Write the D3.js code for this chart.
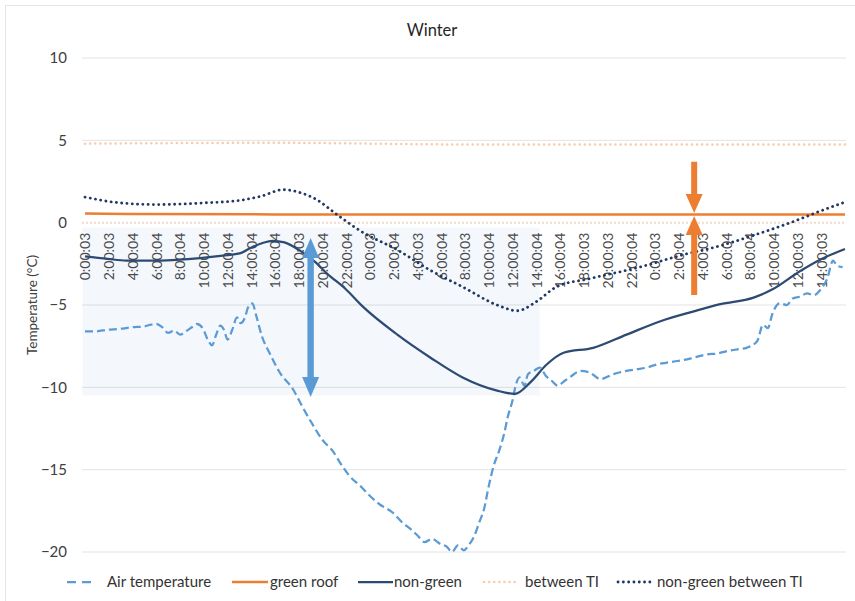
<!DOCTYPE html>
<html>
<head>
<meta charset="utf-8">
<script src="https://cdn.jsdelivr.net/npm/d3@7/dist/d3.min.js"></script>
<style>
  html, body { margin: 0; padding: 0; background: #fff; }
  svg { display: block; font-family: Lato, "Open Sans", sans-serif; }
</style>
</head>
<body>
<svg id="chart" width="855" height="601"></svg>
<script>
// Category labels, one every two hours along the time axis
const tickLabels = [
  "0:00:03","2:00:03","4:00:04","6:00:04","8:00:04","10:00:04","12:00:04","14:00:04",
  "16:00:04","18:00:03","20:00:04","22:00:04","0:00:03","2:00:04","4:00:03","6:00:04",
  "8:00:03","10:00:04","12:00:04","14:00:04","16:00:04","18:00:03","20:00:03","22:00:04",
  "0:00:03","2:00:04","4:00:03","6:00:04","8:00:04","10:00:04","12:00:03","14:00:03"
];
const yTicks = [10, 5, 0, -5, -10, -15, -20];

// Each series: [elapsed hours, temperature °C]
const airTemperature = [
  [0,-6.6],[0.9,-6.6],[1.9,-6.5],[2.9,-6.45],[4,-6.35],[5,-6.3],[5.5,-6.2],[6,-6.15],
  [6.5,-6.35],[7,-6.7],[7.5,-6.55],[8,-6.8],[8.5,-6.6],[9,-6.35],[9.4,-6.15],[9.9,-6.4],
  [10.4,-7.2],[10.7,-7.45],[11,-6.9],[11.4,-6.25],[11.7,-6.5],[12,-7.1],[12.4,-6.5],
  [12.8,-5.75],[13.1,-6.1],[13.5,-5.7],[13.7,-5.2],[14.1,-4.9],[14.4,-5.6],[14.9,-6.9],
  [15.6,-8.0],[16.4,-9.1],[17.5,-10.1],[18.4,-11.3],[19.2,-12.3],[20,-13.2],[20.9,-13.9],
  [21.5,-14.6],[22.3,-15.4],[23.2,-16.0],[24,-16.6],[24.8,-17.1],[25.9,-17.6],[26.7,-18.2],
  [27.4,-18.6],[28,-19.0],[28.6,-19.4],[29.2,-19.2],[29.9,-19.5],[30.5,-19.7],[30.9,-20.0],
  [31.4,-19.6],[31.9,-19.9],[32.3,-19.6],[32.8,-19.0],[33.2,-18.2],[33.6,-17.4],[34,-16.0],
  [34.4,-14.8],[34.9,-13.8],[35.3,-12.8],[35.6,-11.8],[36,-10.8],[36.3,-9.8],[36.6,-9.4],
  [37,-9.9],[37.3,-9.2],[37.8,-9.0],[38.3,-8.8],[38.8,-9.3],[39.3,-9.6],[39.8,-9.9],
  [40.4,-9.6],[41,-9.3],[41.7,-9.0],[42.5,-9.1],[43.4,-9.5],[44.5,-9.2],[45.6,-9.0],
  [46.5,-8.9],[47.3,-8.8],[48.2,-8.6],[49,-8.5],[49.9,-8.4],[50.7,-8.3],[51.5,-8.15],
  [52.4,-8.0],[53.2,-7.95],[54.1,-7.8],[54.9,-7.7],[55.7,-7.6],[56.6,-7.2],[57.1,-6.2],
  [57.5,-6.4],[57.9,-5.5],[58.5,-4.9],[59.1,-5.0],[59.6,-4.6],[60.2,-4.5],[60.8,-4.3],
  [61.4,-4.4],[61.9,-4.1],[62.5,-3.4],[63,-2.3],[63.3,-2.6],[63.8,-2.7]
];
const greenRoof = [[0,0.55],[16,0.5],[32,0.5],[48,0.5],[64,0.5]];
const nonGreen = [
  [0,-2.05],[1.9,-2.2],[3.5,-2.3],[6.3,-2.3],[9.7,-2.15],[11.6,-2.0],[13.1,-1.85],
  [13.9,-1.55],[14.9,-1.25],[15.8,-1.1],[16.8,-1.2],[18.1,-1.7],[19.4,-2.4],[20.4,-3.1],
  [21.9,-4.0],[23.4,-5.1],[26.3,-6.8],[29.1,-8.2],[31.8,-9.4],[34.7,-10.2],[36.2,-10.4],
  [37.5,-9.7],[38.9,-8.6],[40.3,-7.9],[42.8,-7.6],[45.6,-6.8],[48.4,-6.0],[51.2,-5.4],
  [53.5,-4.95],[56.3,-4.55],[57.9,-4.05],[60.2,-2.95],[61.9,-2.25],[64,-1.6]
];
const betweenTI = [[0,4.8],[16,4.85],[32,4.75],[48,4.75],[64,4.75]];
const nonGreenBetweenTI = [
  [0,1.55],[3,1.2],[6,1.1],[10,1.2],[13,1.35],[14.8,1.6],[16.7,2.0],[18,1.85],[19.5,1.4],
  [21.2,0.5],[23.3,-0.55],[26.3,-1.65],[29.1,-2.9],[31.8,-3.9],[34.7,-5.0],[36.4,-5.35],
  [38,-4.8],[39.7,-3.9],[42.5,-3.4],[46.7,-2.7],[50.1,-2.0],[53.5,-1.4],[56.8,-0.65],
  [59.4,0],[61.9,0.7],[64,1.25]
];

// Highlighted period and the two difference arrows (hours, °C)
const shadedPeriod = { from: -0.2, to: 38.3, top: -0.3, bottom: -10.5 };
const blueArrow = { hour: 19.0, top: -0.93, bottom: -10.58 };
const orangeArrows = { hour: 51.3, upperStart: 3.7, upperTip: 0.59, lowerStart: -4.4, lowerTip: 0.4 };

const series = [
  { name: "Air temperature", data: airTemperature, color: "#5B9BD5", width: 2.25, dash: "8,4", cap: "butt" },
  { name: "green roof", data: greenRoof, color: "#ED7D31", width: 2.5, dash: null, cap: "butt" },
  { name: "non-green", data: nonGreen, color: "#2C4A72", width: 2.25, dash: null, cap: "butt" },
  { name: "between TI", data: betweenTI, color: "#F8CBAD", width: 2.5, dash: "0.1,5", cap: "round" },
  { name: "non-green between TI", data: nonGreenBetweenTI, color: "#203864", width: 2.8, dash: "0.1,5.2", cap: "round" }
];

const svg = d3.select("#chart");

// Chart frame
svg.append("rect").attr("x", 5.5).attr("y", 5.5).attr("width", 900).attr("height", 700)
  .attr("fill", "#fff").attr("stroke", "#e4e4e4");

const x = d3.scaleLinear().domain([0, 64]).range([85, 845]);
const y = d3.scaleLinear().domain([-20, 10]).range([552, 58]);
const plotLeft = 82, plotRight = 846;

// Title
svg.append("text").attr("x", 432).attr("y", 36).attr("text-anchor", "middle")
  .attr("font-size", 16.5).attr("fill", "#262626").text("Winter");

// Horizontal gridlines
svg.append("g").selectAll("line").data(yTicks.filter(v => v !== 0)).join("line")
  .attr("x1", plotLeft).attr("x2", plotRight)
  .attr("y1", d => y(d)).attr("y2", d => y(d))
  .attr("stroke", "#e3e3e3").attr("stroke-width", 1);

// Shaded period
svg.append("rect")
  .attr("x", x(shadedPeriod.from)).attr("y", y(shadedPeriod.top))
  .attr("width", x(shadedPeriod.to) - x(shadedPeriod.from))
  .attr("height", y(shadedPeriod.bottom) - y(shadedPeriod.top))
  .attr("fill", "#5B9BD5").attr("fill-opacity", 0.065);

// Y axis labels
const yAxis = svg.append("g").attr("transform", `translate(${plotLeft - 12},0)`)
  .call(d3.axisLeft(y).tickValues(yTicks).tickSize(0).tickFormat(d3.format("d")));
yAxis.select(".domain").remove();
yAxis.selectAll("text").attr("font-size", 15).attr("fill", "#404040")
  .attr("font-family", "Lato, sans-serif");

svg.append("text").attr("transform", `translate(37,${y(-5)}) rotate(-90)`)
  .attr("text-anchor", "middle").attr("font-size", 13.5).attr("fill", "#404040")
  .text("Temperature (°C)");

// Category axis crossing at 0
const xAxis = svg.append("g").attr("transform", `translate(0,${y(0)})`)
  .call(d3.axisBottom(x).tickValues(tickLabels.map((_, i) => i * 2)).tickSize(0)
    .tickFormat((d, i) => tickLabels[i]));
xAxis.select(".domain").attr("d", `M${plotLeft},0H${plotRight}`)
  .attr("stroke", "#f3dccb").attr("stroke-width", 2).attr("stroke-dasharray", "2,2");
xAxis.selectAll("text")
  .attr("transform", "translate(0,10) rotate(-90)")
  .attr("x", 0).attr("y", 0).attr("dy", "0.35em")
  .attr("text-anchor", "end")
  .attr("font-size", 14).attr("fill", "#4a4a4a").attr("font-family", "Lato, sans-serif");

// Series lines
const line = d3.line().x(d => x(d[0])).y(d => y(d[1])).curve(d3.curveMonotoneX);
svg.append("g").selectAll("path").data(series).join("path")
  .attr("d", s => line(s.data))
  .attr("fill", "none")
  .attr("stroke", s => s.color)
  .attr("stroke-width", s => s.width)
  .attr("stroke-dasharray", s => s.dash)
  .attr("stroke-linecap", s => s.cap)
  .attr("stroke-linejoin", "round");

// Arrow helper: shaft from yStart to the tip at yTip
function arrowPath(px, yStart, yTip, shaftHalf, headHalf, headLen) {
  const dir = yTip > yStart ? 1 : -1;
  const yBase = yTip - dir * headLen;
  return `M${px - shaftHalf},${yStart}L${px - shaftHalf},${yBase}L${px - headHalf},${yBase}` +
    `L${px},${yTip}L${px + headHalf},${yBase}L${px + shaftHalf},${yBase}L${px + shaftHalf},${yStart}Z`;
}
function doubleArrowPath(px, yTop, yBottom, shaftHalf, headHalf, headLen) {
  const a = yTop + headLen, b = yBottom - headLen;
  return `M${px},${yTop}L${px + headHalf},${a}L${px + shaftHalf},${a}L${px + shaftHalf},${b}` +
    `L${px + headHalf},${b}L${px},${yBottom}L${px - headHalf},${b}L${px - shaftHalf},${b}` +
    `L${px - shaftHalf},${a}L${px - headHalf},${a}Z`;
}

svg.append("path")
  .attr("d", doubleArrowPath(x(blueArrow.hour), y(blueArrow.top), y(blueArrow.bottom), 3.2, 8.5, 20))
  .attr("fill", "#5B9BD5");
const ox = x(orangeArrows.hour);
svg.append("path")
  .attr("d", arrowPath(ox, y(orangeArrows.upperStart), y(orangeArrows.upperTip), 3, 8.5, 19))
  .attr("fill", "#ED7D31");
svg.append("path")
  .attr("d", arrowPath(ox, y(orangeArrows.lowerStart), y(orangeArrows.lowerTip), 3, 8.5, 19))
  .attr("fill", "#ED7D31");

// Legend
const legendY = 582;
const legendItems = [
  { s: series[0], x0: 67, x1: 97, tx: 107 },
  { s: series[1], x0: 232, x1: 268, tx: 270 },
  { s: series[2], x0: 358, x1: 393, tx: 394 },
  { s: series[3], x0: 484, x1: 519, tx: 525 },
  { s: series[4], x0: 618, x1: 654, tx: 657 }
];
const lg = svg.append("g").selectAll("g").data(legendItems).join("g");
lg.append("line")
  .attr("x1", d => d.x0).attr("x2", d => d.x1)
  .attr("y1", legendY).attr("y2", legendY)
  .attr("stroke", d => d.s.color).attr("stroke-width", d => d.s.width)
  .attr("stroke-dasharray", d => d.s.dash === "8,4" ? "9,6" : d.s.dash)
  .attr("stroke-linecap", d => d.s.cap);
lg.append("text")
  .attr("x", d => d.tx).attr("y", legendY).attr("dy", "0.35em")
  .attr("font-size", 15).attr("fill", "#333")
  .text(d => d.s.name);
</script>
</body>
</html>
